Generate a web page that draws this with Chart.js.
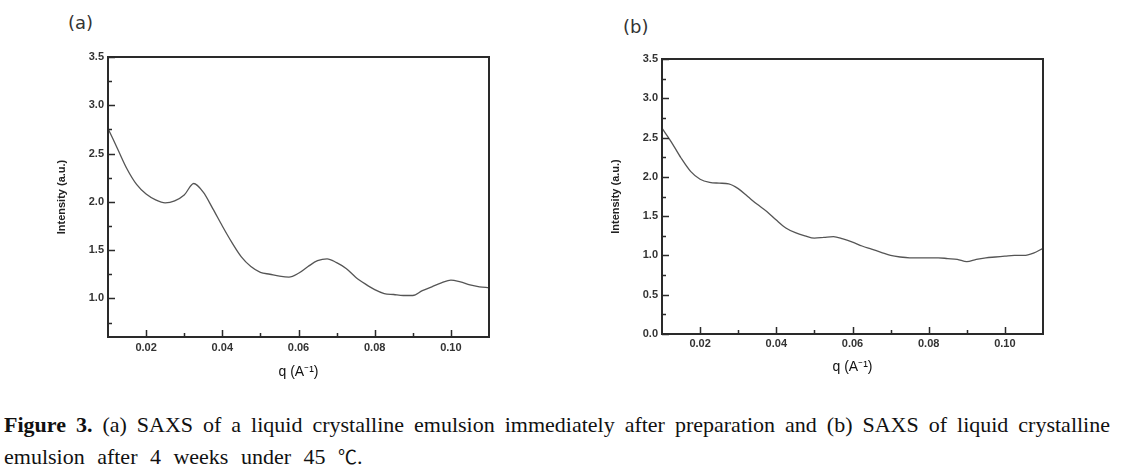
<!DOCTYPE html>
<html>
<head>
<meta charset="utf-8">
<title>SAXS</title>
<script src="https://cdn.jsdelivr.net/npm/chart.js@4.4.0/dist/chart.umd.min.js"></script>
<style>
  body { margin: 0; background: #fff; width: 1121px; height: 473px; position: relative; overflow: hidden; }
  .panel { position: absolute; top: 0; width: 540px; height: 395px; }
  .tag { position: absolute; font-family: "DejaVu Sans", sans-serif; font-size: 18px; color: #333; }
  .cap { position: absolute; left: 4px; width: 1106px; font-family: "Liberation Serif", serif;
         font-size: 22px; line-height: 31px; height: 31px; color: #111; white-space: nowrap; }
  .cap.l1 { text-align: justify; text-align-last: justify; }
  .cap.l2 { word-spacing: 7px; }
  .deg { font-family: "Noto Sans CJK KR"; font-size: 19px; }
</style>
</head>
<body>
<div class="tag" style="left:68px; top:12px;">(a)</div>
<div class="tag" style="left:623px; top:16px;">(b)</div>
<div class="panel" style="left:0px;"><canvas id="chartA"></canvas></div>
<div class="panel" style="left:554px;"><canvas id="chartB"></canvas></div>
<div class="cap l1" style="top:409px;"><b>Figure 3.</b> (a) SAXS of a liquid crystalline emulsion immediately after preparation and (b) SAXS of liquid crystalline</div>
<div class="cap l2" style="top:440px;">emulsion after 4 weeks under 45 <span class="deg">℃</span>.</div>
<script>
/* ---------- data ---------- */
const qValues = [
  0.010, 0.0125, 0.015, 0.0175, 0.020, 0.0225, 0.025, 0.0275, 0.030, 0.0325,
  0.035, 0.0375, 0.040, 0.0425, 0.045, 0.0475, 0.050, 0.0525, 0.055, 0.0575,
  0.060, 0.0625, 0.065, 0.0675, 0.070, 0.0725, 0.075, 0.0775, 0.080, 0.0825,
  0.085, 0.0875, 0.090, 0.0925, 0.095, 0.0975, 0.100, 0.1025, 0.105, 0.1075, 0.110
];
// (a) right after preparation
const intensityA = [
  2.76, 2.55, 2.34, 2.18, 2.08, 2.02, 1.99, 2.01, 2.07, 2.19,
  2.10, 1.93, 1.75, 1.58, 1.43, 1.33, 1.27, 1.25, 1.23, 1.22,
  1.26, 1.33, 1.39, 1.41, 1.37, 1.31, 1.22, 1.15, 1.09, 1.05,
  1.04, 1.03, 1.03, 1.08, 1.12, 1.16, 1.19, 1.17, 1.14, 1.12, 1.11
];
// (b) after 4 weeks at 45 C
const intensityB = [
  2.62, 2.44, 2.24, 2.07, 1.97, 1.93, 1.92, 1.91, 1.85, 1.75,
  1.65, 1.56, 1.45, 1.35, 1.29, 1.25, 1.22, 1.23, 1.24, 1.21,
  1.17, 1.12, 1.08, 1.04, 1.00, 0.98, 0.97, 0.97, 0.97, 0.97,
  0.96, 0.95, 0.92, 0.95, 0.97, 0.98, 0.99, 1.00, 1.00, 1.03, 1.09
];

const xTicks = [0.02, 0.04, 0.06, 0.08, 0.10];
const xMinor = [0.03, 0.05, 0.07, 0.09];
const yTicksA = [1.0, 1.5, 2.0, 2.5, 3.0, 3.5];
const yMinorA = [0.75, 1.25, 1.75, 2.25, 2.75, 3.25];
const yTicksB = [0.0, 0.5, 1.0, 1.5, 2.0, 2.5, 3.0, 3.5];
const yMinorB = [0.25, 0.75, 1.25, 1.75, 2.25, 2.75, 3.25];

/* ---------- frame + inward ticks ---------- */
const framePlugin = {
  id: "frame",
  afterDatasetsDraw(chart, args, opts) {
    const { ctx, chartArea: a } = chart;
    const x = chart.scales.x, y = chart.scales.y;
    ctx.save();
    ctx.strokeStyle = "#2a2a2a";
    ctx.lineWidth = 2;
    ctx.strokeRect(a.left, a.top, a.right - a.left, a.bottom - a.top);
    ctx.lineWidth = 1.5;
    ctx.beginPath();
    const xt = (v, len) => { const p = Math.round(x.getPixelForValue(v)) + 0.5; ctx.moveTo(p, a.bottom); ctx.lineTo(p, a.bottom - len); };
    const yt = (v, len) => { const p = Math.round(y.getPixelForValue(v)) + 0.5; ctx.moveTo(a.left, p); ctx.lineTo(a.left + len, p); };
    opts.xMajor.forEach(v => xt(v, 7));
    opts.xMinor.forEach(v => xt(v, 4));
    opts.yMajor.forEach(v => yt(v, 7));
    opts.yMinor.forEach(v => yt(v, 4));
    ctx.stroke();
    ctx.restore();
  }
};

function makeChart(id, values, yMin, yTicks, yMinor, padTop, padBottom, xTickPad, xTitlePad) {
  return new Chart(document.getElementById(id), {
    type: "line",
    data: {
      datasets: [{
        data: qValues.map((q, i) => ({ x: q, y: values[i] })),
        borderColor: "#555",
        borderWidth: 1.3,
        pointRadius: 0,
        tension: 0.4,
        cubicInterpolationMode: "monotone",
      }],
    },
    options: {
      responsive: false,
      animation: false,
      maintainAspectRatio: false,
      layout: { padding: { left: 55, right: 51, top: padTop, bottom: padBottom } },
      plugins: {
        legend: { display: false },
        tooltip: { enabled: false },
        frame: { xMajor: xTicks, xMinor: xMinor, yMajor: yTicks, yMinor: yMinor },
      },
      scales: {
        x: {
          type: "linear",
          min: 0.01,
          max: 0.11,
          grid: { display: false, drawTicks: false },
          border: { display: false },
          afterBuildTicks: s => { s.ticks = xTicks.map(v => ({ value: v })); },
          afterFit: s => { s.height = 45; },
          ticks: {
            padding: xTickPad,
            maxRotation: 0,
            color: "#333",
            font: { family: "Liberation Sans", size: 11, weight: "bold" },
            callback: v => v.toFixed(2),
          },
          title: {
            display: true,
            text: "q (A⁻¹)",
            color: "#111",
            padding: { top: 0, bottom: xTitlePad },
            font: { family: "Liberation Sans", size: 14 },
          },
        },
        y: {
          min: yMin,
          max: 3.5,
          grid: { display: false, drawTicks: false },
          border: { display: false },
          afterBuildTicks: s => { s.ticks = yTicks.map(v => ({ value: v })); },
          afterFit: s => { s.width = 53; },
          ticks: {
            padding: 4,
            color: "#333",
            font: { family: "Liberation Sans", size: 11, weight: "bold" },
            callback: v => v.toFixed(1),
          },
          title: {
            display: true,
            text: "Intensity (a.u.)",
            color: "#222",
            padding: { top: 0, bottom: 0 },
            font: { family: "Liberation Sans", size: 11, weight: "bold" },
          },
        },
      },
    },
    plugins: [framePlugin],
  });
}

function sizeCanvas(id) {
  const c = document.getElementById(id);
  c.width = 540; c.height = 395;
  c.style.width = "540px"; c.style.height = "395px";
}
sizeCanvas("chartA");
sizeCanvas("chartB");

makeChart("chartA", intensityA, 0.6, yTicksA, yMinorA, 57, 13, 4, 1);
makeChart("chartB", intensityB, 0.0, yTicksB, yMinorB, 59, 16, 3, 3);
</script>
</body>
</html>
